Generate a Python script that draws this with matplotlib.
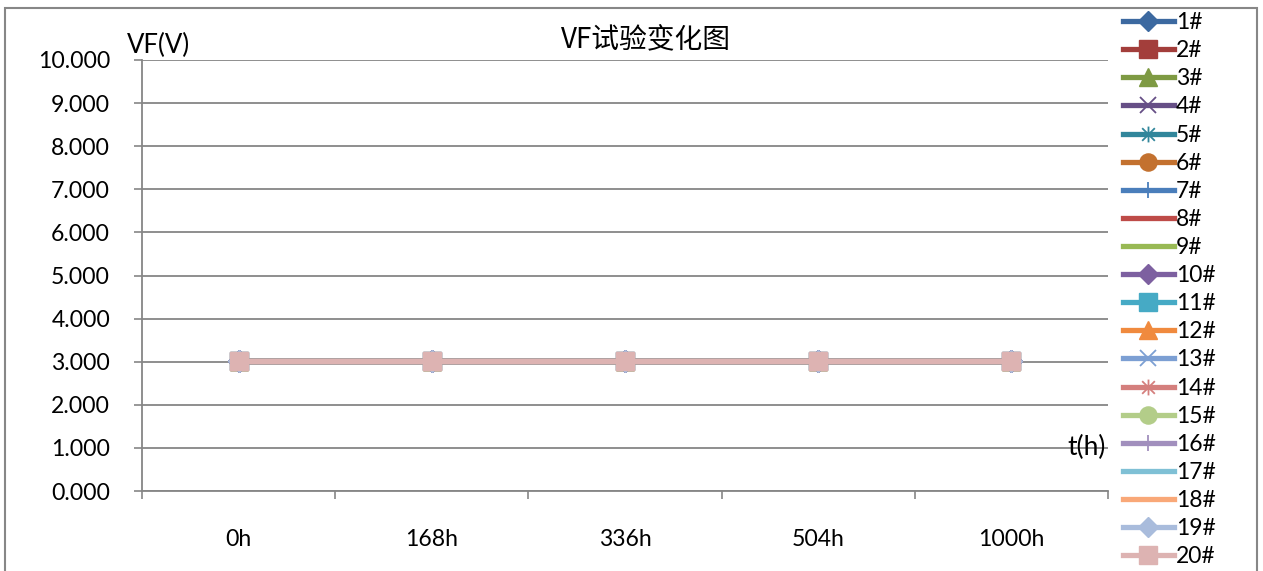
import matplotlib
matplotlib.use('Agg')
import matplotlib.pyplot as plt
from matplotlib.patches import Rectangle
from matplotlib.path import Path

plt.rcParams['font.family'] = ['Lato', 'Noto Sans CJK SC', 'DejaVu Sans']

times = ['0h', '168h', '336h', '504h', '1000h']
series_names = ['%d#' % i for i in range(1, 21)]

# VF readings (V) for each sample
vf_1 = [3.02, 3.02, 3.02, 3.02, 3.02]
vf_2 = [3.02, 3.02, 3.02, 3.02, 3.02]
vf_3 = [3.02, 3.02, 3.02, 3.02, 3.02]
vf_4 = [3.02, 3.02, 3.02, 3.02, 3.02]
vf_5 = [3.02, 3.02, 3.02, 3.02, 3.02]
vf_6 = [3.02, 3.02, 3.02, 3.02, 3.02]
vf_7 = [3.02, 3.02, 3.02, 3.02, 3.02]
vf_8 = [3.02, 3.02, 3.02, 3.02, 3.02]
vf_9 = [3.02, 3.02, 3.02, 3.02, 3.02]
vf_10 = [3.02, 3.02, 3.02, 3.02, 3.02]
vf_11 = [3.02, 3.02, 3.02, 3.02, 3.02]
vf_12 = [3.02, 3.02, 3.02, 3.02, 3.02]
vf_13 = [3.02, 3.02, 3.02, 3.02, 3.02]
vf_14 = [3.02, 3.02, 3.02, 3.02, 3.02]
vf_15 = [3.02, 3.02, 3.02, 3.02, 3.02]
vf_16 = [3.02, 3.02, 3.02, 3.02, 3.02]
vf_17 = [3.02, 3.02, 3.02, 3.02, 3.02]
vf_18 = [3.02, 3.02, 3.02, 3.02, 3.02]
vf_19 = [3.02, 3.02, 3.02, 3.02, 3.02]
vf_20 = [3.02, 3.02, 3.02, 3.02, 3.02]
all_vf = [vf_1, vf_2, vf_3, vf_4, vf_5, vf_6, vf_7, vf_8, vf_9, vf_10,
          vf_11, vf_12, vf_13, vf_14, vf_15, vf_16, vf_17, vf_18, vf_19, vf_20]

colors = ['#3c69a0', '#a33e3b', '#7e9a43', '#664f86', '#31869b', '#c3712f',
          '#4a7ebb', '#be4b48', '#98b954', '#7d60a0', '#46aac5', '#f08a3e',
          '#7c9fd3', '#d47f7d', '#b3cd89', '#a18fbd', '#7fc0d5', '#f9a878',
          '#a9bcdc', '#ddb3b2']

# Excel-style star: an x with a vertical stroke
asterisk = Path([(-1, -1), (1, 1), (-1, 1), (1, -1), (0, -1.25), (0, 1.25)],
                [Path.MOVETO, Path.LINETO, Path.MOVETO, Path.LINETO, Path.MOVETO, Path.LINETO])
markers = ['D', 's', '^', 'x', asterisk, 'o', '|', None, None, 'D',
           's', '^', 'x', asterisk, 'o', '|', None, None, 'D', 's']

fig = plt.figure(figsize=(12.63, 5.71), dpi=100)
ax = fig.add_axes([142 / 1263, 1 - 491 / 571, (1108 - 142) / 1263, (491 - 60) / 571])

x = list(range(len(times)))
for i in range(20):
    m = markers[i]
    thin = m is asterisk or m in ('x', '|')
    ms = 13
    if m == 'D':
        ms = 11
    if thin:
        ms = 12
    ax.plot(x, all_vf[i], color=colors[i], lw=3.8, marker=m, markersize=ms,
            markeredgewidth=1.3 if thin else 1,
            markerfacecolor=colors[i], markeredgecolor=colors[i],
            label=series_names[i], zorder=3 + i * 0.01)

ax.set_ylim(0, 10)
ax.set_xlim(-0.5, 4.5)
ax.set_yticks([0, 1, 2, 3, 4, 5, 6, 7, 8, 9, 10])
ax.set_yticklabels(['%.3f' % v for v in range(11)])
ax.set_xticks([-0.5, 0.5, 1.5, 2.5, 3.5, 4.5])
ax.set_xticklabels([])
ax.set_xticks(x, minor=True)
ax.set_xticklabels(times, minor=True)
ax.tick_params(axis='y', length=6, width=1.2, color='#868686', pad=17, labelsize=16.6)
ax.tick_params(axis='x', which='major', length=6, width=1.2, color='#868686')
ax.tick_params(axis='x', which='minor', length=0, pad=27, labelsize=16.6)
ax.grid(axis='y', color='#868686', lw=1.3)
ax.set_axisbelow(True)
for s in ['top', 'right']:
    ax.spines[s].set_visible(False)
for s in ['left', 'bottom']:
    ax.spines[s].set_color('#868686')
    ax.spines[s].set_linewidth(1.3)

fig.text(646 / 1263, 1 - 40 / 571, 'VF试验变化图', fontsize=20, ha='center', va='center',
         family=['Noto Sans CJK SC', 'DejaVu Sans'])
fig.text(127 / 1263, 1 - 45 / 571, 'VF(V)', fontsize=18.5, ha='left', va='center')
ax.text(0.998, 1.0, 't(h)', transform=ax.get_yaxis_transform(), fontsize=19,
        ha='right', va='center')

leg = fig.legend(loc='upper left', bbox_to_anchor=(1114 / 1263, 1 - 3 / 571),
                 frameon=False, fontsize=16.5, handlelength=2.2, handletextpad=0.1,
                 labelspacing=0.31, borderaxespad=0, markerscale=0.95)

fig.patches.append(Rectangle((5 / 1263, -0.02), 1252 / 1263, 1 - 8 / 571 + 0.02,
                             transform=fig.transFigure, fill=False,
                             edgecolor='#878787', lw=1.5))

fig.savefig('out.png', dpi=100)
